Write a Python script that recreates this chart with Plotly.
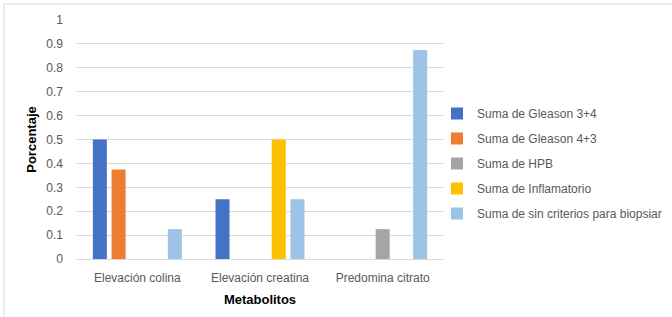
import plotly.graph_objects as go

categories = ["Elevación colina", "Elevación creatina", "Predomina citrato"]
series_names = [
    "Suma de Gleason 3+4",
    "Suma de Gleason 4+3",
    "Suma de HPB",
    "Suma de Inflamatorio",
    "Suma de sin criterios para biopsiar",
]
gleason34 = [0.5, 0.25, 0]
gleason43 = [0.375, 0, 0]
hpb = [0, 0, 0.125]
inflamatorio = [0, 0.5, 0]
sin_criterios = [0.125, 0.25, 0.875]
colors = ["#4472C4", "#ED7D31", "#A5A5A5", "#FFC000", "#9DC3E6"]
y_ticks = [0, 0.1, 0.2, 0.3, 0.4, 0.5, 0.6, 0.7, 0.8, 0.9, 1]

values = [gleason34, gleason43, hpb, inflamatorio, sin_criterios]

fig = go.Figure()
for i, (name, vals, col) in enumerate(zip(series_names, values, colors)):
    fig.add_trace(go.Bar(x=categories, y=vals, name=name, marker_color=col,
                         marker_line_width=0, legendgroup=str(i)))

L, R, T, B = 76, 228, 20, 58
W, H = 672, 317
pw, ph = W - L - R, H - T - B

def px(x):
    return (x - L) / pw

def py(y):
    return (H - B - y) / ph

fig.update_layout(
    width=W, height=H,
    margin=dict(l=L, r=R, t=T, b=B, autoexpand=False),
    paper_bgcolor="white", plot_bgcolor="white",
    font=dict(family="Liberation Sans, Arial, sans-serif", size=12, color="#595959"),
    barmode="group", bargap=0.236, bargroupgap=0.253,
    showlegend=True,
    legend=dict(x=px(437), y=py(99), xanchor="left", yanchor="top",
                font=dict(size=12, color="#595959"), tracegroupgap=6,
                bgcolor="rgba(0,0,0,0)", itemwidth=30),
    xaxis=dict(showgrid=False, showline=False, ticks="", ticklabelstandoff=10,
               title=dict(text="<b>Metabolitos</b>", font=dict(size=13, color="#000000"), standoff=10),
               tickfont=dict(size=12, color="#595959")),
    yaxis=dict(range=[0, 1], tickvals=y_ticks, showgrid=True, gridcolor="#D9D9D9", gridwidth=1,
               zeroline=True, zerolinecolor="#D9D9D9", zerolinewidth=1, showline=False, ticks="",
               ticklabelstandoff=12,
               title=dict(text="<b>Porcentaje</b>", font=dict(size=13, color="#000000"), standoff=6),
               tickfont=dict(size=12, color="#595959")),
    shapes=[dict(type="rect", xref="paper", yref="paper",
                 x0=px(4), x1=px(690), y0=py(335), y1=py(4),
                 line=dict(color="#D9D9D9", width=1), fillcolor="rgba(0,0,0,0)", layer="below")],
)

fig.write_html("out.html", config={"displayModeBar": False},
               post_script="document.body.style.margin='0';")
